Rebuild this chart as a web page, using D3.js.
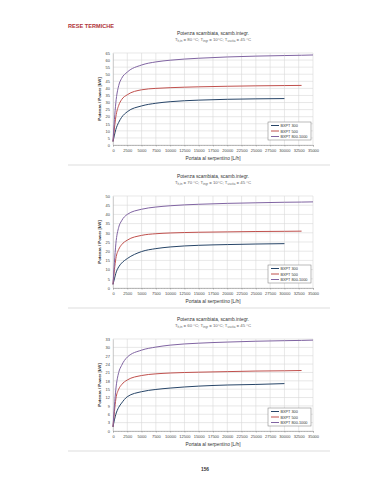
<!DOCTYPE html>
<html>
<head>
<meta charset="utf-8">
<script src="https://cdn.jsdelivr.net/npm/d3@7"></script>
<style>
  body { margin: 0; background: #fff; }
  svg { font-family: "Liberation Sans", Arial, sans-serif; }
  .grid line { stroke: #d9d9d9; stroke-width: 0.6; }
  .tick text { fill: #444; }
</style>
</head>
<body>
<svg id="page" width="374" height="480"></svg>
<script>
// flow rates on the x axis [L/h]
var flow = [0, 250, 500, 1000, 1500, 2500, 5000, 7500, 10000, 15000, 20000, 25000, 30000, 33000, 35000];
var xTicks = d3.range(0, 35001, 2500);
var seriesNames = ["BXPT 300", "BXPT 500", "BXPT 800-1000"];
var colors = ["#274568", "#c0504d", "#8064a2"];

// chart 1 : T h,in = 80 °C
var p80_300 = [2.5, 7, 11, 16, 19.5, 23.5, 27.6, 29.5, 30.6, 31.7, 32.3, 32.6, 32.8];
var p80_500 = [2.5, 12, 20, 28, 32, 35.5, 39, 40, 40.5, 41.1, 41.5, 41.8, 42, 42.1];
var p80_800 = [2.5, 18, 30, 42, 47, 51.5, 56.5, 58.7, 59.9, 61.3, 62.2, 62.8, 63.2, 63.4, 63.6];
// chart 2 : T h,in = 70 °C
var p70_300 = [2, 5, 8, 11.5, 13.5, 16, 19.8, 21.4, 22.3, 23.2, 23.6, 23.9, 24.1];
var p70_500 = [2, 10, 16, 21, 23.5, 26, 28.6, 29.5, 29.9, 30.3, 30.5, 30.7, 30.8, 30.9];
var p70_800 = [2, 14, 24, 33, 36.5, 40, 42.8, 44, 44.7, 45.5, 46, 46.3, 46.6, 46.7, 46.8];
// chart 3 : T h,in = 60 °C
var p60_300 = [1.5, 4, 6, 8.5, 10, 12.3, 14.1, 14.9, 15.4, 16.1, 16.5, 16.7, 17];
var p60_500 = [1.5, 7, 11.5, 15, 16.6, 18.3, 19.9, 20.5, 20.8, 21.1, 21.3, 21.5, 21.6, 21.7];
var p60_800 = [1.5, 9, 15, 21, 23.5, 26.5, 29, 30.1, 30.8, 31.5, 31.9, 32.2, 32.4, 32.5, 32.6];

var charts = [
  {tin: "80", yMax: 65, yStep: 5, series: [p80_300, p80_500, p80_800]},
  {tin: "70", yMax: 50, yStep: 5, series: [p70_300, p70_500, p70_800]},
  {tin: "60", yMax: 33, yStep: 3, series: [p60_300, p60_500, p60_800]}
];

var svg = d3.select("#page");

svg.append("text")
  .attr("x", 68).attr("y", 28)
  .attr("font-size", 5.6).attr("font-weight", "bold")
  .attr("fill", "#b0333a")
  .text("RESE TERMICHE");

var left = 113, right = 313, h = 92;
var tops = [53, 196, 339];

charts.forEach(function(c, ci) {
  var top = tops[ci];
  var g = svg.append("g");

  var x = d3.scaleLinear().domain([0, 35000]).range([left, right]);
  var y = d3.scaleLinear().domain([0, c.yMax]).range([top + h, top]);
  var yTicks = d3.range(0, c.yMax + 0.1, c.yStep);

  // title
  g.append("text")
    .attr("x", 213).attr("y", top - 18)
    .attr("text-anchor", "middle")
    .attr("font-size", 4.8).attr("fill", "#333")
    .text("Potenza scambiata, scamb.integr.");
  var sub = g.append("text")
    .attr("x", 213).attr("y", top - 12)
    .attr("text-anchor", "middle")
    .attr("font-size", 4.3).attr("fill", "#666");
  sub.append("tspan").text("T");
  sub.append("tspan").attr("dy", 1).attr("font-size", 3).text("h,in");
  sub.append("tspan").attr("dy", -1).text(" = " + c.tin + " °C; T");
  sub.append("tspan").attr("dy", 1).attr("font-size", 3).text("ingr");
  sub.append("tspan").attr("dy", -1).text(" = 10°C; T");
  sub.append("tspan").attr("dy", 1).attr("font-size", 3).text("uscita");
  sub.append("tspan").attr("dy", -1).text(" = 45 °C");

  // grid
  var grid = g.append("g").attr("class", "grid");
  grid.selectAll(".h").data(yTicks).enter().append("line")
    .attr("x1", left).attr("x2", right)
    .attr("y1", function(d) { return y(d); })
    .attr("y2", function(d) { return y(d); });
  grid.selectAll(".v").data(xTicks).enter().append("line")
    .attr("y1", top).attr("y2", top + h)
    .attr("x1", function(d) { return x(d); })
    .attr("x2", function(d) { return x(d); });

  // axes
  var ya = g.append("g")
    .attr("transform", "translate(" + left + ",0)")
    .call(d3.axisLeft(y).tickValues(yTicks).tickSize(0).tickPadding(3));
  ya.select(".domain").attr("stroke", "#bbb").attr("stroke-width", 0.6);
  ya.selectAll("text").attr("font-size", 4).attr("font-family", "Liberation Sans");

  var xa = g.append("g")
    .attr("transform", "translate(0," + (top + h) + ")")
    .call(d3.axisBottom(x).tickValues(xTicks).tickSize(1.5).tickPadding(3).tickFormat(d3.format("d")));
  xa.select(".domain").attr("stroke", "#888").attr("stroke-width", 0.5);
  xa.selectAll("line").attr("stroke", "#888").attr("stroke-width", 0.5);
  xa.selectAll("text").attr("font-size", 4).attr("font-family", "Liberation Sans");
  // minor ticks
  g.append("g").selectAll("line").data(d3.range(500, 35000, 500)).enter().append("line")
    .attr("x1", function(d) { return x(d); }).attr("x2", function(d) { return x(d); })
    .attr("y1", top + h).attr("y2", top + h + 1)
    .attr("stroke", "#999").attr("stroke-width", 0.4);

  g.append("text")
    .attr("transform", "translate(101," + (top + h / 2) + ") rotate(-90)")
    .attr("text-anchor", "middle")
    .attr("font-size", 4.3).attr("font-weight", "bold").attr("fill", "#333")
    .text("Potenza / Power [kW]");
  g.append("text")
    .attr("x", 213).attr("y", top + h + 15)
    .attr("text-anchor", "middle")
    .attr("font-size", 4.8).attr("fill", "#333")
    .text("Portata al serpentino [L/h]");

  // lines
  var line = d3.line()
    .x(function(d, i) { return x(flow[i]); })
    .y(function(d) { return y(d); })
    .curve(d3.curveMonotoneX);
  c.series.forEach(function(s, si) {
    g.append("path")
      .datum(s)
      .attr("fill", "none")
      .attr("stroke", colors[si])
      .attr("stroke-width", 1)
      .attr("d", line);
  });

  // legend
  var lg = g.append("g").attr("transform", "translate(268," + (top + h - 23) + ")");
  lg.append("rect").attr("width", 43).attr("height", 18)
    .attr("fill", "#fff").attr("stroke", "#777").attr("stroke-width", 0.5);
  seriesNames.forEach(function(n, i) {
    lg.append("line")
      .attr("x1", 3).attr("x2", 11)
      .attr("y1", 3.5 + i * 5.5).attr("y2", 3.5 + i * 5.5)
      .attr("stroke", colors[i]).attr("stroke-width", 1);
    lg.append("text")
      .attr("x", 12.5).attr("y", 5 + i * 5.5)
      .attr("font-size", 3.8).attr("fill", "#333")
      .text(n);
  });

  // separator
  svg.append("line")
    .attr("x1", 68).attr("x2", 330)
    .attr("y1", top + h + 20).attr("y2", top + h + 20)
    .attr("stroke", "#ddd").attr("stroke-width", 1.2);
});

svg.append("text")
  .attr("x", 205).attr("y", 471)
  .attr("text-anchor", "middle")
  .attr("font-size", 4.8).attr("font-weight", "bold").attr("fill", "#333")
  .text("156");
</script>
</body>
</html>
